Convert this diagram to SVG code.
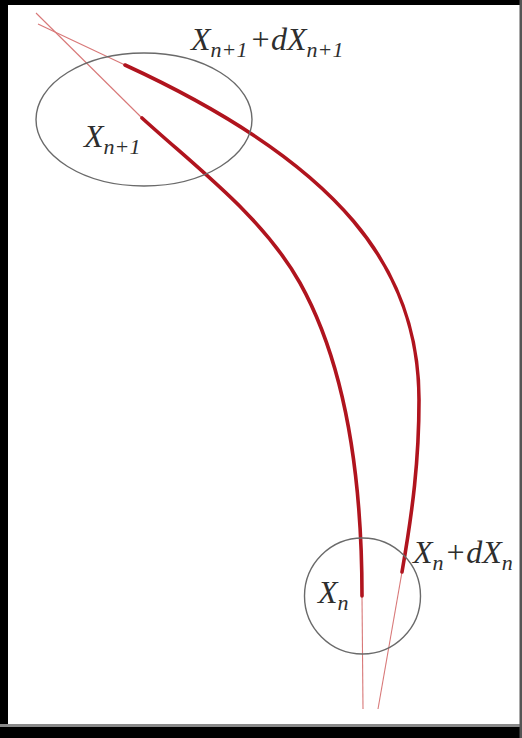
<svg xmlns="http://www.w3.org/2000/svg" width="522" height="738" viewBox="0 0 522 738">
  <style>
    .lbl { font-family: "Liberation Serif", "Times New Roman", serif; font-style: italic; fill: #2e2e2e; font-size: 32px; }
    .sub { font-size: 22px; }
    .ring { fill: none; stroke: #6a6a6a; stroke-width: 1.4; }
    .thick { fill: none; stroke: #b0141e; stroke-width: 3.6; stroke-linecap: round; }
    .thin { fill: none; stroke: #d87878; stroke-width: 1.1; }
  </style>
  <rect x="0" y="0" width="522" height="738" fill="#ffffff"/>
  <g id="frame">
    <rect x="0" y="0" width="522" height="5" fill="#000"/>
    <rect x="0" y="0" width="8" height="738" fill="#000"/>
    <rect x="0" y="724" width="522" height="3" fill="#8a8a8a"/>
    <rect x="0" y="727" width="522" height="11" fill="#000"/>
    <rect x="519.5" y="0" width="2.5" height="738" fill="#555"/>
  </g>
  <g id="connectors">
    <line class="thin" x1="36" y1="13" x2="142" y2="118"/>
    <line class="thin" x1="38" y1="24" x2="125" y2="65"/>
    <line class="thin" x1="362" y1="596" x2="363" y2="709"/>
    <line class="thin" x1="402" y1="572" x2="378" y2="709"/>
    <path class="thick" d="M125,65 C342.5,165 419,270 419,400 C419,460 412.8,510 402,572"/>
    <path class="thick" d="M142,118 C198,169 263,217 300,283 C348.6,370.4 362,486 362,596"/>
  </g>
  <g id="node-xn1">
    <ellipse class="ring" cx="144" cy="119.5" rx="108" ry="66.5"/>
    <text class="lbl" x="84" y="147">X<tspan class="sub" dy="7">n+1</tspan></text>
  </g>
  <g id="node-xn">
    <circle class="ring" cx="362.5" cy="596" r="58"/>
    <text class="lbl" x="318" y="603">X<tspan class="sub" dy="7">n</tspan></text>
  </g>
  <g id="label-top">
    <text class="lbl" x="191" y="50">X<tspan class="sub" dy="7">n+1</tspan><tspan dy="-7" dx="2">+</tspan><tspan>d</tspan>X<tspan class="sub" dy="7">n+1</tspan></text>
  </g>
  <g id="label-bottom">
    <text class="lbl" x="413" y="563">X<tspan class="sub" dy="7">n</tspan><tspan dy="-7" dx="1">+</tspan><tspan>d</tspan>X<tspan class="sub" dy="7">n</tspan></text>
  </g>
</svg>
